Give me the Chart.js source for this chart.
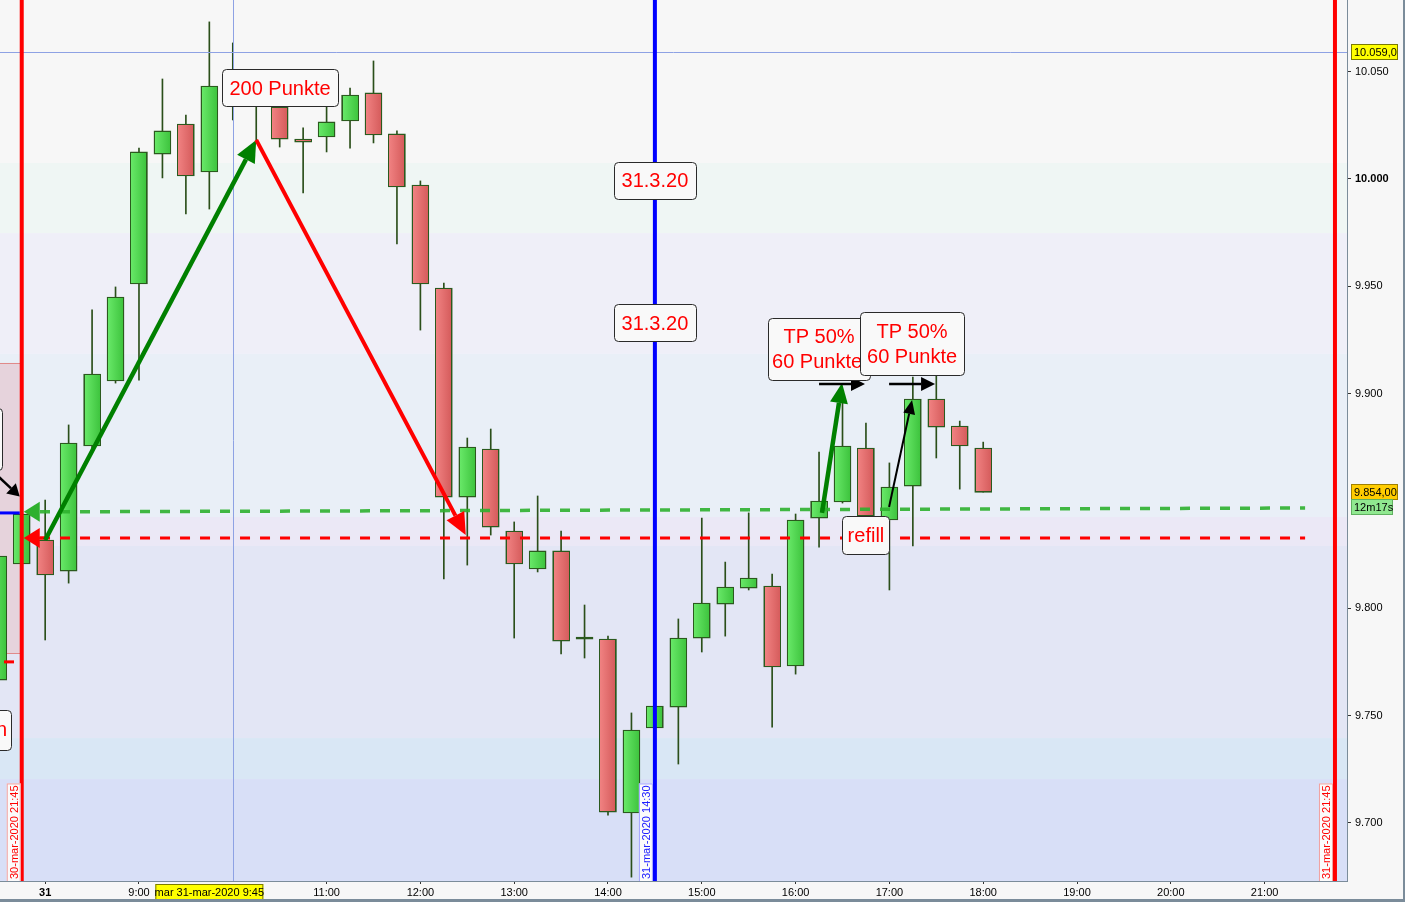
<!DOCTYPE html>
<html>
<head>
<meta charset="utf-8">
<script src="https://cdn.jsdelivr.net/npm/chart.js@4.4.0/dist/chart.umd.min.js"></script>
<style>
  html, body { margin: 0; padding: 0; background: #f7f7f7; }
  #wrap { position: relative; width: 1405px; height: 902px; }
</style>
</head>
<body>
<div id="wrap"><canvas id="chart"></canvas></div>
<script>
// 15-minute candles (first two belong to the previous evening session)
const times  = ['07:30','07:45','08:00','08:15','08:30','08:45','09:00','09:15','09:30','09:45',
                '10:00','10:15','10:30','10:45','11:00','11:15','11:30','11:45','12:00','12:15',
                '12:30','12:45','13:00','13:15','13:30','13:45','14:00','14:15','14:30','14:45',
                '15:00','15:15','15:30','15:45','16:00','16:15','16:30','16:45','17:00','17:15',
                '17:30','17:45','18:00'];
const opens  = [9766.5,9820.6,9831.8,9817.3,9875.6,9905.9,9951.1,10011.6,10025.6,10003.3,
                10045.0,10039.0,10033.6,10018.6,10019.6,10027.0,10040.1,10021.0,9997.2,9949.2,
                9851.8,9874.2,9836.0,9818.3,9826.7,9786.6,9785.6,9704.6,9744.2,9753.9,
                9786.1,9801.9,9809.4,9810.3,9773.1,9842.0,9849.5,9874.6,9841.1,9856.9,
                9897.5,9884.9,9874.6];
const highs  = [9827.1,9845.8,9850.4,9885.4,9939.0,9949.7,10014.4,10046.6,10029.8,10073.2,
                10063.4,10048.5,10036.0,10023.8,10033.6,10042.4,10055.0,10022.4,9999.1,9951.5,
                9879.3,9883.5,9840.2,9852.3,9836.0,9801.5,9787.0,9751.2,9755.4,9795.0,
                9842.0,9821.5,9844.4,9815.9,9843.9,9872.8,9900.7,9886.3,9867.7,9907.7,
                9909.1,9887.2,9877.4];
const lows   = [9764.2,9819.7,9785.2,9811.7,9874.7,9904.9,9906.3,10000.5,9983.7,9986.0,
                10027.5,10018.2,10014.9,9993.5,10012.6,10014.4,10016.8,9969.7,9929.6,9813.6,
                9820.1,9834.1,9786.1,9816.9,9778.7,9776.8,9703.6,9674.7,9743.2,9727.4,
                9779.6,9787.0,9808.5,9744.6,9769.3,9828.5,9849.0,9841.1,9808.5,9829.0,
                9870.0,9855.5,9854.1];
const closes = [9824.3,9843.9,9815.5,9877.0,9909.1,9945.0,10012.6,10022.4,10001.4,10043.3,
                10040.0,10034.5,10018.6,10017.2,10026.6,10039.1,10020.5,9996.3,9951.1,9851.8,
                9875.1,9837.8,9820.6,9826.7,9784.7,9785.6,9705.0,9743.2,9754.4,9786.1,
                9802.4,9809.9,9814.1,9772.6,9841.1,9849.9,9875.6,9843.0,9856.5,9897.5,
                9884.4,9875.6,9854.0];

const yTicks = [9700, 9750, 9800, 9900, 9950, 10000, 10050];
const xTicks = ['08:00','09:00','11:00','12:00','13:00','14:00','15:00','16:00','17:00','18:00','19:00','20:00','21:00'];
const xTickLabels = ['31','9:00','11:00','12:00','13:00','14:00','15:00','16:00','17:00','18:00','19:00','20:00','21:00'];

const entryLevel = [9844.9, 9846.7];   // green dotted, start / end
const stopLevel = 9832.7;              // red dashed
const lastPrice = 9854.0;
const cursorPrice = 10059.0;
const cursorTime = '10:00';
const sessionLines = ['07:45', '21:45'];
const dayLine = '14:30';

const toMin = s => { const p = s.split(':'); return +p[0] * 60 + +p[1]; };
const deNum = v => {
  const t = Math.floor(v / 1000), r = Math.round(v - t * 1000);
  return t + '.' + String(r).padStart(3, '0');
};
const FONT = '"Liberation Sans", Arial, sans-serif';

// background zones (price bands)
const bands = [
  [10007.5, 10200, '#f7f7f7'],
  [9974.8, 10007.5, '#eff6f4'],
  [9918.5, 9974.8, '#efeff8'],
  [9842.5, 9918.5, '#e9eff7'],
  [9829.0, 9842.5, '#ebe8f6'],
  [9739.5, 9829.0, '#e3e6f5'],
  [9720.4, 9739.5, '#d9e7f5'],
  [9600, 9720.4, '#d8dff7']
];

function arrow(ctx, x1, y1, x2, y2, color, w, hl, hw) {
  const a = Math.atan2(y2 - y1, x2 - x1);
  const bx = x2 - Math.cos(a) * hl, by = y2 - Math.sin(a) * hl;
  ctx.strokeStyle = color; ctx.fillStyle = color; ctx.lineWidth = w; ctx.lineCap = 'butt';
  ctx.beginPath(); ctx.moveTo(x1, y1); ctx.lineTo(bx, by); ctx.stroke();
  ctx.beginPath();
  ctx.moveTo(x2, y2);
  ctx.lineTo(bx + Math.sin(a) * hw, by - Math.cos(a) * hw);
  ctx.lineTo(bx - Math.sin(a) * hw, by + Math.cos(a) * hw);
  ctx.closePath(); ctx.fill();
}

function box(ctx, x, y, w, h) {
  ctx.fillStyle = '#f9f9f9';
  ctx.strokeStyle = '#2a2a2a';
  ctx.lineWidth = 1;
  ctx.beginPath();
  ctx.roundRect(Math.round(x) + 0.5, Math.round(y) + 0.5, w, h, 4);
  ctx.fill(); ctx.stroke();
}

function vLabel(ctx, x, bottom, text, color, border) {
  ctx.save();
  ctx.font = '11px ' + FONT;
  const w = ctx.measureText(text).width + 4;
  ctx.fillStyle = '#fbfbfb';
  ctx.strokeStyle = border; ctx.lineWidth = 1;
  ctx.fillRect(x - 7, bottom - w, 14, w);
  ctx.strokeRect(x - 6.5, bottom - w + 0.5, 13, w);
  ctx.translate(x, bottom - 2);
  ctx.rotate(-Math.PI / 2);
  ctx.fillStyle = color; ctx.textAlign = 'left'; ctx.textBaseline = 'middle';
  ctx.fillText(text, 0, 1);
  ctx.restore();
}

function priceTag(ctx, x, yc, w, text, fill, border) {
  ctx.fillStyle = fill; ctx.fillRect(x, yc - 8, w, 16);
  ctx.strokeStyle = border; ctx.lineWidth = 1; ctx.strokeRect(x + 0.5, yc - 7.5, w - 1, 15);
  ctx.fillStyle = '#000'; ctx.font = '11px ' + FONT;
  ctx.textAlign = 'left'; ctx.textBaseline = 'middle';
  ctx.fillText(text, x + 3, yc + 1);
}

const decor = {
  id: 'decor',
  beforeDatasetsDraw(chart) {
    const { ctx, chartArea: a, scales: { x, y } } = chart;
    ctx.save();
    ctx.beginPath(); ctx.rect(a.left, a.top, a.right - a.left, a.bottom - a.top); ctx.clip();
    bands.forEach(b => {
      const y1 = y.getPixelForValue(b[1]), y2 = y.getPixelForValue(b[0]);
      ctx.fillStyle = b[2];
      ctx.fillRect(a.left, y1, a.right - a.left, y2 - y1);
    });
    // previous session highlight
    const px = x.getPixelForValue(toMin(sessionLines[0]));
    const t = y.getPixelForValue(9914.3), bt = y.getPixelForValue(9779.1);
    ctx.fillStyle = '#e6d3dc';
    ctx.fillRect(a.left, t, px - a.left, bt - t);
    ctx.strokeStyle = '#e08a8a'; ctx.lineWidth = 1;
    ctx.beginPath();
    ctx.moveTo(a.left, Math.round(t) + 0.5); ctx.lineTo(px, Math.round(t) + 0.5);
    ctx.moveTo(a.left, Math.round(bt) + 0.5); ctx.lineTo(px, Math.round(bt) + 0.5);
    ctx.stroke();
    ctx.restore();
  },
  afterDatasetDraw(chart, args) {
    if (args.index !== 2) return;
    const ctx = chart.ctx;
    ctx.save();
    args.meta.data.forEach((el, i) => {
      const p = el.getProps(['x', 'y', 'base', 'width'], true);
      const left = Math.round(p.x - p.width / 2);
      const top = Math.round(Math.min(p.y, p.base));
      const h = Math.max(2, Math.round(Math.abs(p.base - p.y)));
      const up = closes[i] >= opens[i];
      const g = ctx.createLinearGradient(left, 0, left + p.width, 0);
      g.addColorStop(0, up ? '#6aea6a' : '#f28484');
      g.addColorStop(1, up ? '#3cc23c' : '#d45a5a');
      ctx.fillStyle = g;
      ctx.fillRect(left, top, p.width, h);
      ctx.strokeStyle = '#2b5a1e'; ctx.lineWidth = 1;
      ctx.strokeRect(left + 0.5, top + 0.5, p.width - 1, h - 1);
    });
    ctx.restore();
  },
  afterDatasetsDraw(chart) {
    const { ctx, chartArea: a, scales: { x, y } } = chart;
    const X = v => x.getPixelForValue(v), Y = v => y.getPixelForValue(v);
    ctx.save();
    ctx.beginPath(); ctx.rect(a.left, a.top, a.right - a.left, a.bottom - a.top); ctx.clip();

    // cursor crosshair
    ctx.strokeStyle = '#8ea2e4'; ctx.lineWidth = 1;
    ctx.beginPath();
    ctx.moveTo(Math.round(X(toMin(cursorTime))) + 0.5, a.top);
    ctx.lineTo(Math.round(X(toMin(cursorTime))) + 0.5, a.bottom);
    ctx.moveTo(a.left, Math.round(Y(cursorPrice)) + 0.5);
    ctx.lineTo(a.right, Math.round(Y(cursorPrice)) + 0.5);
    ctx.stroke();

    // session and day separators
    ctx.lineWidth = 4;
    ctx.strokeStyle = '#ff0000';
    sessionLines.forEach(s => {
      ctx.beginPath(); ctx.moveTo(X(toMin(s)), a.top); ctx.lineTo(X(toMin(s)), a.bottom); ctx.stroke();
    });
    ctx.strokeStyle = '#0000ff';
    ctx.beginPath(); ctx.moveTo(X(toMin(dayLine)), a.top); ctx.lineTo(X(toMin(dayLine)), a.bottom); ctx.stroke();

    // leftovers of the previous session drawings
    const lx = X(toMin(sessionLines[0]));
    ctx.strokeStyle = '#0000ff'; ctx.lineWidth = 3;
    ctx.beginPath(); ctx.moveTo(a.left, Y(9844.4)); ctx.lineTo(lx - 2, Y(9844.4)); ctx.stroke();
    ctx.strokeStyle = '#ff0000'; ctx.lineWidth = 3;
    ctx.beginPath(); ctx.moveTo(a.left + 4, Y(9775.0)); ctx.lineTo(a.left + 14, Y(9775.0)); ctx.stroke();
    arrow(ctx, a.left - 12, Y(9866.0), lx - 2, Y(9852.0), '#000', 2.5, 12, 7);
    box(ctx, a.left - 60, Y(9893.3), 62, 62);
    box(ctx, a.left - 60, Y(9752.6), 71, 40);
    ctx.fillStyle = '#ff0000'; ctx.font = '20px ' + FONT; ctx.textBaseline = 'middle'; ctx.textAlign = 'left';
    ctx.fillText('n', a.left - 4, Y(9742.8));
    // entry / stop markers
    const mx = lx + 2;
    ctx.fillStyle = '#2eb02e';
    ctx.beginPath(); ctx.moveTo(mx, Y(entryLevel[0])); ctx.lineTo(mx + 16, Y(entryLevel[0]) - 10);
    ctx.lineTo(mx + 16, Y(entryLevel[0]) + 10); ctx.closePath(); ctx.fill();
    ctx.fillStyle = '#ff0000';
    ctx.beginPath(); ctx.moveTo(mx, Y(stopLevel)); ctx.lineTo(mx + 16, Y(stopLevel) - 10);
    ctx.lineTo(mx + 16, Y(stopLevel) + 10); ctx.closePath(); ctx.fill();
    ctx.strokeStyle = '#ff0000'; ctx.lineWidth = 3;
    ctx.beginPath(); ctx.moveTo(mx + 14, Y(stopLevel)); ctx.lineTo(mx + 22, Y(stopLevel)); ctx.stroke();

    // move arrows
    arrow(ctx, X(480), Y(9831.8), X(615), Y(10018.2), '#008000', 4.5, 22, 10);
    arrow(ctx, X(615), Y(10018.2), X(749), Y(9834.1), '#ff0000', 4, 22, 10);
    arrow(ctx, X(976.9), Y(9844.4), X(989.7), Y(9904.9), '#008000', 4.5, 20, 9);
    arrow(ctx, X(1019.8), Y(9847.2), X(1034.5), Y(9897.0), '#000', 2, 14, 6);
    arrow(ctx, X(975), Y(9904.5), X(1004.4), Y(9904.5), '#000', 2.5, 14, 7);
    arrow(ctx, X(1019.8), Y(9904.5), X(1049.2), Y(9904.5), '#000', 2.5, 14, 7);

    // text boxes
    ctx.font = '20px ' + FONT; ctx.textAlign = 'center'; ctx.textBaseline = 'middle';
    const notes = [
      { t: 630.2, p: 10042.4, w: 116, h: 37, lines: ['200 Punkte'] },
      { t: 870, p: 9999.5, w: 82, h: 37, lines: ['31.3.20'] },
      { t: 870, p: 9932.9, w: 82, h: 37, lines: ['31.3.20'] },
      { t: 975, p: 9920.8, w: 102, h: 62, lines: ['TP 50%', '60 Punkte'], left: true },
      { t: 1034.5, p: 9923.3, w: 104, h: 63, lines: ['TP 50%', '60 Punkte'] },
      { t: 1005, p: 9834.1, w: 47, h: 38, lines: ['refill'] }
    ];
    notes.forEach(n => {
      const cx = X(n.t), cy = Y(n.p);
      box(ctx, cx - n.w / 2, cy - n.h / 2, n.w, n.h);
      ctx.fillStyle = '#ff0000';
      n.lines.forEach((s, i) => {
        const yy = cy + (i - (n.lines.length - 1) / 2) * 25 + 1;
        if (i === 1 && n.left) { ctx.textAlign = 'left'; ctx.fillText(s, cx - n.w / 2 + 4, yy); ctx.textAlign = 'center'; }
        else ctx.fillText(s, cx, yy);
      });
    });

    // separator captions
    vLabel(ctx, X(toMin(sessionLines[0])) - 8, a.bottom, '30-mar-2020 21:45', '#ff0000', '#f0a0a0');
    vLabel(ctx, X(toMin(dayLine)) - 9, a.bottom, '31-mar-2020 14:30', '#2020ff', '#a0a0ff');
    vLabel(ctx, X(toMin(sessionLines[1])) - 9, a.bottom, '31-mar-2020 21:45', '#ff0000', '#f0a0a0');
    ctx.restore();
  },
  afterDraw(chart) {
    const { ctx, chartArea: a, scales: { x, y } } = chart;
    ctx.save();
    priceTag(ctx, a.right + 4, Math.round(y.getPixelForValue(cursorPrice)), 47, '10.059,0', '#ffff00', '#7a7a00');
    const ly = Math.round(y.getPixelForValue(lastPrice));
    priceTag(ctx, a.right + 4, ly, 47, '9.854,00', '#ffcc00', '#a08000');
    priceTag(ctx, a.right + 4, ly + 15, 42, '12m17s', '#90e890', '#60b060');
    // cursor time tag on the time axis
    const cx = x.getPixelForValue(585);
    ctx.fillStyle = '#ffff00'; ctx.fillRect(cx - 54, a.bottom + 3, 108, 16);
    ctx.strokeStyle = '#7a7a00'; ctx.lineWidth = 1; ctx.strokeRect(cx - 53.5, a.bottom + 3.5, 107, 15);
    ctx.fillStyle = '#000'; ctx.font = '11px ' + FONT; ctx.textAlign = 'center'; ctx.textBaseline = 'middle';
    ctx.fillText('mar 31-mar-2020 9:45', cx, a.bottom + 12);
    // outer frame
    ctx.fillStyle = '#7b8c9a';
    ctx.fillRect(0, 899, 1405, 3);
    ctx.fillRect(1403, 0, 2, 902);
    ctx.restore();
  }
};

new Chart(document.getElementById('chart'), {
  type: 'bar',
  data: {
    datasets: [
      {
        type: 'line',
        data: [{ x: 476.7, y: entryLevel[0] }, { x: 1285.9, y: entryLevel[1] }],
        borderColor: 'rgba(46,176,46,0.9)', borderWidth: 3.5, borderDash: [10, 10],
        pointRadius: 0, fill: false
      },
      {
        type: 'line',
        data: [{ x: 476.7, y: stopLevel }, { x: 1285.9, y: stopLevel }],
        borderColor: '#ff0000', borderWidth: 3, borderDash: [10, 10],
        pointRadius: 0, fill: false
      },
      {
        data: times.map((t, i) => ({ x: toMin(t), y: [opens[i], closes[i]] })),
        backgroundColor: times.map((t, i) => closes[i] >= opens[i] ? '#52d652' : '#e46e6e'),
        borderColor: '#2b5a1e', borderWidth: 1, borderSkipped: false,
        barThickness: 17, grouped: false
      },
      {
        data: times.map((t, i) => ({ x: toMin(t), y: [lows[i], highs[i]] })),
        backgroundColor: '#2b4f1a', barThickness: 1, grouped: false
      }
    ]
  },
  options: {
    responsive: true,
    maintainAspectRatio: false,
    animation: false,
    layout: { padding: 0 },
    plugins: { legend: { display: false }, tooltip: { enabled: false } },
    scales: {
      x: {
        type: 'linear', position: 'bottom', min: 451.1, max: 1312.7, offset: false,
        afterFit: s => { s.height = 21; s.paddingLeft = 0; s.paddingRight = 0; },
        afterBuildTicks: s => { s.ticks = xTicks.map(t => ({ value: toMin(t) })); },
        grid: { drawOnChartArea: false, tickLength: 3, color: '#333', offset: false },
        border: { color: '#7b8c9a', width: 1 },
        ticks: {
          padding: 2, color: '#000', maxRotation: 0, autoSkip: false,
          font: c => ({ family: FONT, size: 11, weight: c.index === 0 ? 'bold' : 'normal' }),
          callback: (v, i) => xTickLabels[i]
        }
      },
      y: {
        type: 'linear', position: 'right', min: 9672.9, max: 10083.4,
        afterFit: s => { s.width = 58; s.paddingTop = 0; s.paddingBottom = 0; },
        afterBuildTicks: s => { s.ticks = yTicks.map(v => ({ value: v })); },
        grid: { drawOnChartArea: false, tickLength: 4, color: '#333' },
        border: { color: '#7b8c9a', width: 1 },
        ticks: {
          padding: 4, color: '#000',
          font: c => ({ family: FONT, size: 11, weight: c.tick && c.tick.value === 10000 ? 'bold' : 'normal' }),
          callback: v => deNum(v)
        }
      }
    }
  },
  plugins: [decor]
});
</script>
</body>
</html>
